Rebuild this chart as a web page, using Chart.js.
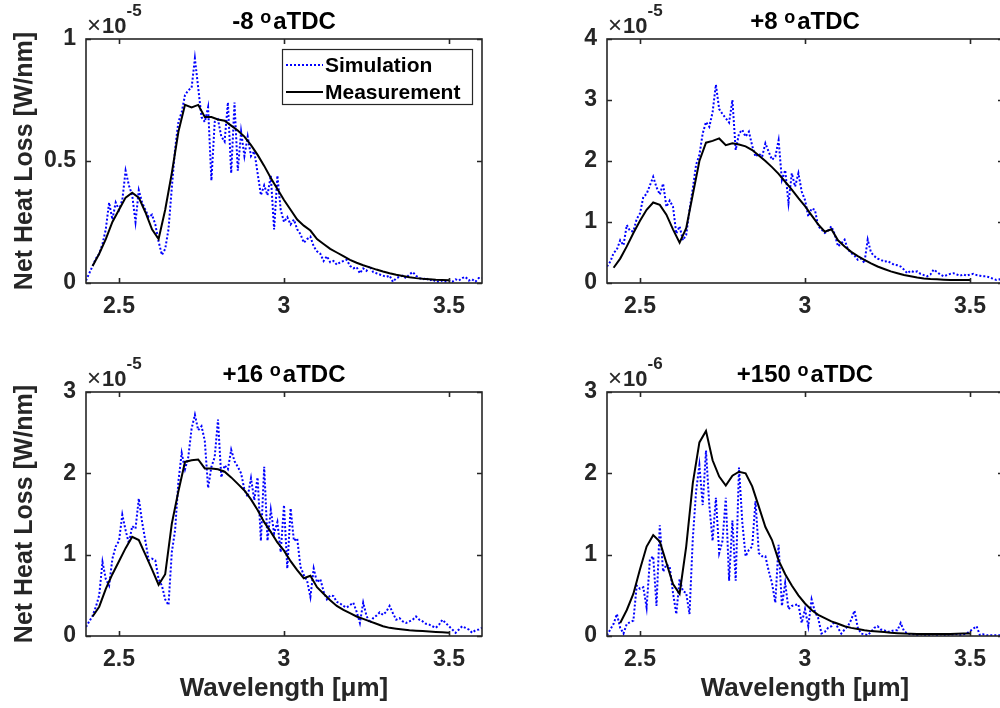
<!DOCTYPE html>
<html>
<head>
<meta charset="utf-8">
<script src="https://cdn.jsdelivr.net/npm/chart.js@4.4.1/dist/chart.umd.min.js"></script>
<style>
  html, body { margin: 0; padding: 0; background: #fff; width: 1000px; height: 708px; overflow: hidden; position: relative; }
  canvas { position: absolute; }
</style>
</head>
<body>
<canvas id="pM8" width="500" height="355" style="left:0;top:0"></canvas>
<canvas id="pP8" width="500" height="355" style="left:521px;top:0"></canvas>
<canvas id="pP16" width="500" height="355" style="left:0;top:353px"></canvas>
<canvas id="pP150" width="500" height="355" style="left:521px;top:353px"></canvas>
<script>
// wavelength grids [um]
const wavelengthSim = [
  2.40, 2.41, 2.42, 2.43, 2.44, 2.45, 2.46, 2.47, 2.48, 2.49,
  2.50, 2.51, 2.52, 2.53, 2.54, 2.55, 2.56, 2.57, 2.58, 2.59,
  2.60, 2.61, 2.62, 2.63, 2.64, 2.65, 2.66, 2.67, 2.68, 2.69,
  2.70, 2.71, 2.72, 2.73, 2.74, 2.75, 2.76, 2.77, 2.78, 2.79,
  2.80, 2.81, 2.82, 2.83, 2.84, 2.85, 2.86, 2.87, 2.88, 2.89,
  2.90, 2.91, 2.92, 2.93, 2.94, 2.95, 2.96, 2.97, 2.98, 2.99,
  3.00, 3.01, 3.02, 3.03, 3.04, 3.05, 3.06, 3.07, 3.08, 3.09,
  3.10, 3.11, 3.12, 3.13, 3.14, 3.15, 3.16, 3.17, 3.18, 3.19,
  3.20, 3.21, 3.22, 3.23, 3.24, 3.25, 3.26, 3.27, 3.28, 3.29,
  3.30, 3.31, 3.32, 3.33, 3.34, 3.35, 3.36, 3.37, 3.38, 3.39,
  3.40, 3.41, 3.42, 3.43, 3.44, 3.45, 3.46, 3.47, 3.48, 3.49,
  3.50, 3.51, 3.52, 3.53, 3.54, 3.55, 3.56, 3.57, 3.58, 3.59,
  3.60
];
const wavelengthMeas = [
  2.42, 2.44, 2.46, 2.48, 2.50, 2.52, 2.54, 2.56, 2.58, 2.60,
  2.62, 2.64, 2.66, 2.68, 2.70, 2.72, 2.74, 2.76, 2.78, 2.80,
  2.82, 2.84, 2.86, 2.88, 2.90, 2.92, 2.94, 2.96, 2.98, 3.00,
  3.02, 3.04, 3.06, 3.08, 3.10, 3.12, 3.14, 3.16, 3.18, 3.20,
  3.22, 3.24, 3.26, 3.28, 3.30, 3.32, 3.34, 3.36, 3.38, 3.40,
  3.42, 3.44, 3.46, 3.48, 3.50
];

// -8 aTDC  (x1e-5 W/nm)
const simM8 = [
  0.01, 0.04, 0.07, 0.10, 0.12, 0.16, 0.22, 0.33, 0.26, 0.33,
  0.30, 0.34, 0.46, 0.40, 0.36, 0.25, 0.38, 0.33, 0.30, 0.27,
  0.28, 0.24, 0.17, 0.115, 0.14, 0.22, 0.39, 0.55, 0.66, 0.70,
  0.77, 0.79, 0.80, 0.92, 0.80, 0.68, 0.66, 0.72, 0.42, 0.66,
  0.67, 0.60, 0.58, 0.74, 0.45, 0.74, 0.46, 0.62, 0.52, 0.60,
  0.52, 0.54, 0.45, 0.36, 0.40, 0.36, 0.44, 0.22, 0.44, 0.30,
  0.25, 0.27, 0.24, 0.26, 0.22, 0.20, 0.165, 0.18, 0.19, 0.15,
  0.13, 0.12, 0.09, 0.11, 0.085, 0.09, 0.075, 0.085, 0.09, 0.095,
  0.07, 0.06, 0.065, 0.04, 0.06, 0.05, 0.07, 0.045, 0.04, 0.035,
  0.03, 0.025, 0.03, 0.005, 0.02, 0.025, 0.03, 0.02, 0.035, 0.045,
  0.03, 0.02, 0.015, 0.02, 0.01, 0.015, 0.005, 0.005, 0.01, 0.005,
  0.01, 0.005, 0.015, 0.01, 0.02, 0.025, 0.01, 0.015, 0.005, 0.02,
  0.02
];
const measM8 = [
  0.07, 0.12, 0.18, 0.25, 0.30, 0.35, 0.37, 0.35, 0.29, 0.22,
  0.18, 0.30, 0.45, 0.62, 0.73, 0.72, 0.73, 0.68, 0.68, 0.67,
  0.665, 0.645, 0.625, 0.60, 0.565, 0.525, 0.48, 0.43, 0.385, 0.34,
  0.30, 0.26, 0.235, 0.215, 0.18, 0.16, 0.14, 0.125, 0.11, 0.095,
  0.083, 0.073, 0.064, 0.055, 0.047, 0.04, 0.034, 0.029, 0.024, 0.02,
  0.017, 0.015, 0.013, 0.012, 0.011
];

// +8 aTDC  (x1e-5 W/nm)
const simP8 = [
  0.27, 0.35, 0.49, 0.55, 0.70, 0.62, 0.95, 0.85, 0.85, 1.05,
  1.14, 1.41, 1.46, 1.60, 1.74, 1.57, 1.45, 1.63, 1.25, 1.35,
  1.25, 0.81, 0.93, 0.70, 0.79, 1.20, 1.55, 1.94, 2.10, 2.45,
  2.64, 2.56, 2.80, 3.25, 2.85, 2.77, 2.70, 2.63, 3.00, 2.18,
  2.45, 2.51, 2.40, 2.48, 2.25, 2.07, 2.12, 2.07, 2.29, 2.15,
  2.02, 2.07, 2.34, 1.69, 1.85, 1.31, 1.80, 1.58, 1.80, 1.50,
  1.36, 1.09, 1.22, 1.20, 0.93, 0.88, 0.82, 0.86, 0.93, 0.80,
  0.60, 0.65, 0.71, 0.55, 0.49, 0.45, 0.38, 0.40, 0.33, 0.71,
  0.50, 0.44, 0.40, 0.38, 0.35, 0.36, 0.33, 0.30, 0.29, 0.27,
  0.22, 0.16, 0.20, 0.18, 0.19, 0.15, 0.13, 0.11, 0.14, 0.22,
  0.18, 0.14, 0.11, 0.13, 0.15, 0.16, 0.14, 0.12, 0.14, 0.12,
  0.14, 0.15, 0.13, 0.12, 0.11, 0.11, 0.09, 0.07, 0.05, 0.06,
  0.05
];
const measP8 = [
  0.25, 0.40, 0.60, 0.82, 1.02, 1.20, 1.32, 1.28, 1.12, 0.88,
  0.66, 0.90, 1.45, 2.00, 2.30, 2.33, 2.37, 2.26, 2.29, 2.27,
  2.24, 2.18, 2.09, 2.00, 1.90, 1.79, 1.66, 1.53, 1.39, 1.26,
  1.11, 0.96, 0.84, 0.88, 0.70, 0.60, 0.51, 0.44, 0.38, 0.32,
  0.27, 0.23, 0.19, 0.16, 0.13, 0.11, 0.09, 0.075, 0.065, 0.06,
  0.055, 0.05, 0.05, 0.05, 0.05
];

// +16 aTDC  (x1e-5 W/nm)
const simP16 = [
  0.11, 0.18, 0.25, 0.36, 0.50, 0.91, 0.70, 0.62, 0.95, 1.10,
  1.17, 1.49, 1.30, 1.14, 1.35, 1.32, 1.69, 1.40, 1.17, 0.93,
  0.95, 0.93, 0.70, 0.62, 0.45, 0.38, 1.03, 1.30, 1.90, 2.25,
  2.05, 2.20, 2.55, 2.72, 2.53, 2.58, 2.40, 1.82, 2.08, 2.20,
  2.66, 1.95, 2.10, 2.05, 2.29, 2.15, 2.08, 2.00, 1.80, 1.71,
  1.94, 1.67, 1.95, 1.17, 2.08, 1.17, 1.55, 1.26, 1.40, 1.03,
  1.61, 0.83, 1.57, 1.17, 1.20, 0.85, 0.75, 0.68, 0.48, 0.83,
  0.66, 0.70, 0.55, 0.45, 0.50, 0.49, 0.42, 0.40, 0.37, 0.35,
  0.38, 0.41, 0.30, 0.16, 0.41, 0.25, 0.16, 0.22, 0.25, 0.29,
  0.26, 0.30, 0.37, 0.28, 0.20, 0.22, 0.18, 0.16, 0.18, 0.20,
  0.24, 0.20, 0.18, 0.15, 0.14, 0.12, 0.10, 0.14, 0.20, 0.16,
  0.12, 0.08, 0.04, 0.08, 0.12, 0.10, 0.08, 0.04, 0.07, 0.08,
  0.10
];
const measP16 = [
  0.24, 0.36, 0.58, 0.76, 0.92, 1.08, 1.22, 1.18, 1.00, 0.82,
  0.63, 0.76, 1.38, 1.78, 2.14, 2.16, 2.17, 2.06, 2.06, 2.05,
  2.02, 1.95, 1.87, 1.79, 1.68, 1.55, 1.40, 1.28, 1.15, 1.05,
  0.92, 0.81, 0.71, 0.74, 0.60, 0.52, 0.44, 0.37, 0.32, 0.28,
  0.24, 0.21, 0.18, 0.15, 0.12, 0.10, 0.09, 0.08, 0.07, 0.065,
  0.06, 0.055, 0.05, 0.045, 0.04
];

// +150 aTDC  (x1e-6 W/nm)
const simP150 = [
  0.01, 0.08, 0.15, 0.27, 0.10, 0.03, 0.15, 0.17, 0.19, 0.62,
  0.58, 0.60, 0.35, 0.94, 0.98, 0.37, 1.36, 0.79, 0.88, 0.85,
  0.53, 0.27, 0.70, 0.55, 0.53, 0.27, 1.20, 1.78, 2.10, 1.61,
  2.28, 1.61, 1.17, 1.70, 1.02, 1.17, 1.70, 0.68, 1.42, 0.68,
  2.07, 1.40, 0.98, 1.06, 1.10, 1.66, 1.02, 0.98, 0.98, 0.80,
  0.65, 0.41, 1.12, 0.37, 0.65, 0.33, 0.37, 0.38, 0.39, 0.16,
  0.33, 0.12, 0.45, 0.30, 0.22, 0.03, 0.05, 0.10, 0.12, 0.18,
  0.10, 0.03, 0.08, 0.12, 0.20, 0.31, 0.10, 0.03, 0.02, 0.01,
  0.05, 0.10, 0.12, 0.08, 0.07, 0.05, 0.06, 0.07, 0.07, 0.16,
  0.06, 0.03, 0.02, 0.02, 0.01, 0.02, 0.01, 0.01, 0.01, 0.02,
  0.01, 0.02, 0.01, 0.02, 0.01, 0.02, 0.02, 0.01, 0.02, 0.03,
  0.06, 0.09, 0.12, 0.01, 0.02, 0.01, 0.01, 0.01, 0.01, 0.01,
  0.01
];
const measP150 = [
  null, 0.16, 0.32, 0.52, 0.82, 1.10, 1.24, 1.16, 0.90, 0.64,
  0.52, 1.10, 1.88, 2.38, 2.52, 2.16, 1.96, 1.85, 1.97, 2.02,
  2.00, 1.84, 1.59, 1.34, 1.18, 0.93, 0.76, 0.62, 0.50, 0.40,
  0.32, 0.26, 0.22, 0.18, 0.15, 0.12, 0.10, 0.085, 0.07, 0.06,
  0.055, 0.05, 0.04, 0.035, 0.03, 0.028, 0.026, 0.025, 0.025, 0.025,
  0.025, 0.025, 0.027, 0.03, 0.03
];

const panelAngles = ['-8', '+8', '+16', '+150'];
const panelExponents = ['-5', '-5', '-5', '-6'];
const yMaxes = [1, 4, 3, 3];
const ySteps = [0.5, 1, 1, 1];

const FONT = '"Liberation Sans", Arial, sans-serif';
const INK = '#262626';

function toPoints(xs, ys) {
  return xs.map((x, i) => ({ x: x, y: ys[i] }));
}

// box, inward ticks, title, exponent label and legend drawn MATLAB-style
const matlabFrame = {
  id: 'matlabFrame',
  afterDatasetsDraw(chart, args, opts) {
    const { ctx, chartArea: a } = chart;
    const xs = chart.scales.x, ys = chart.scales.y;
    ctx.save();
    ctx.strokeStyle = INK;
    ctx.lineWidth = 1.6;
    ctx.strokeRect(a.left, a.top, a.right - a.left, a.bottom - a.top);
    ctx.beginPath();
    xs.ticks.forEach(t => {
      const px = Math.round(xs.getPixelForValue(t.value)) + 0.5;
      ctx.moveTo(px, a.bottom); ctx.lineTo(px, a.bottom - 5);
      ctx.moveTo(px, a.top); ctx.lineTo(px, a.top + 5);
    });
    ys.ticks.forEach(t => {
      const py = Math.round(ys.getPixelForValue(t.value)) + 0.5;
      ctx.moveTo(a.left, py); ctx.lineTo(a.left + 5, py);
      ctx.moveTo(a.right, py); ctx.lineTo(a.right - 5, py);
    });
    ctx.stroke();

    // title: "<angle> ^o aTDC"
    ctx.fillStyle = '#000';
    ctx.textBaseline = 'alphabetic';
    ctx.textAlign = 'left';
    const big = 'bold 24px ' + FONT, small = 'bold 18px ' + FONT;
    const t1 = opts.angle + ' ', t2 = 'o', t3 = 'aTDC';
    ctx.font = big;
    const w1 = ctx.measureText(t1).width, w3 = ctx.measureText(t3).width;
    ctx.font = small;
    const w2 = ctx.measureText(t2).width + 2;
    let tx = (a.left + a.right) / 2 - (w1 + w2 + w3) / 2;
    const tb = a.top - 10;
    ctx.font = big; ctx.fillText(t1, tx, tb);
    ctx.font = small; ctx.fillText(t2, tx + w1, tb - 6);
    ctx.font = big; ctx.fillText(t3, tx + w1 + w2, tb);

    // exponent label "x10^-n"
    ctx.fillStyle = INK;
    const eb = a.top - 6;
    let ex = a.left + 1;
    ctx.font = '24px ' + FONT;
    ctx.fillText('\u00d7', ex, eb);
    ex += ctx.measureText('\u00d7').width + 1;
    ctx.font = 'bold 22px ' + FONT;
    ctx.fillText('10', ex, eb);
    ex += ctx.measureText('10').width;
    ctx.font = 'bold 17px ' + FONT;
    ctx.fillText(opts.exponent, ex, eb - 17);

    if (opts.legend) {
      const lx = 282, ly = 49, lw = 190, lh = 55;
      ctx.fillStyle = '#fff';
      ctx.fillRect(lx, ly, lw, lh);
      ctx.strokeStyle = INK;
      ctx.lineWidth = 1.2;
      ctx.strokeRect(lx + 0.5, ly + 0.5, lw, lh);
      const rows = chart.data.datasets;
      rows.forEach((ds, i) => {
        const ry = ly + 16 + i * 27;
        ctx.beginPath();
        ctx.strokeStyle = ds.borderColor;
        ctx.lineWidth = ds.borderWidth;
        ctx.setLineDash(ds.borderDash || []);
        ctx.moveTo(lx + 4, ry); ctx.lineTo(lx + 41, ry);
        ctx.stroke();
        ctx.setLineDash([]);
        ctx.fillStyle = '#000';
        ctx.font = 'bold 21px ' + FONT;
        ctx.textBaseline = 'middle';
        ctx.fillText(ds.label, lx + 43, ry + 1);
      });
    }
    ctx.restore();
  }
};

function makePanel(id, k, sim, meas, showY, showX) {
  const tickFont = { family: FONT, size: 23, weight: 'bold' };
  const plain = v => String(v);
  return new Chart(document.getElementById(id), {
    type: 'line',
    data: {
      datasets: [
        {
          label: 'Simulation',
          data: toPoints(wavelengthSim, sim),
          borderColor: '#0000ff',
          borderWidth: 2,
          borderDash: [2, 2],
          pointRadius: 0,
          tension: 0,
          order: 2
        },
        {
          label: 'Measurement',
          data: toPoints(wavelengthMeas, meas),
          borderColor: '#000000',
          borderWidth: 2,
          pointRadius: 0,
          tension: 0,
          spanGaps: false,
          order: 1
        }
      ]
    },
    options: {
      responsive: false,
      animation: false,
      devicePixelRatio: 1,
      layout: { padding: { top: 39, right: 18, left: 0, bottom: 0 } },
      plugins: {
        legend: { display: false },
        tooltip: { enabled: false },
        matlabFrame: { angle: panelAngles[k], exponent: panelExponents[k], legend: k === 0 }
      },
      scales: {
        x: {
          type: 'linear',
          min: 2.4,
          max: 3.6,
          grid: { display: false, drawTicks: false },
          border: { display: false },
          ticks: { stepSize: 0.5, includeBounds: false, font: tickFont, color: INK, padding: 10, maxRotation: 0, callback: plain },
          title: {
            display: showX,
            text: 'Wavelength [\u03bcm]',
            color: INK,
            font: { family: FONT, size: 26, weight: 'bold' },
            padding: { top: 0, bottom: 4 }
          },
          afterFit(s) { s.height = 72; s.paddingLeft = 0; s.paddingRight = 0; }
        },
        y: {
          type: 'linear',
          min: 0,
          max: yMaxes[k],
          grid: { display: false, drawTicks: false },
          border: { display: false },
          ticks: { stepSize: ySteps[k], font: tickFont, color: INK, padding: 10, callback: plain },
          title: {
            display: showY,
            text: 'Net Heat Loss [W/nm]',
            color: INK,
            font: { family: FONT, size: 25, weight: 'bold' },
            padding: { top: 10, bottom: 0 }
          },
          afterFit(s) { s.width = 86; s.paddingTop = 0; s.paddingBottom = 0; }
        }
      }
    },
    plugins: [matlabFrame]
  });
}

makePanel('pM8', 0, simM8, measM8, true, false);
makePanel('pP8', 1, simP8, measP8, false, false);
makePanel('pP16', 2, simP16, measP16, true, true);
makePanel('pP150', 3, simP150, measP150, false, true);
</script>
</body>
</html>
